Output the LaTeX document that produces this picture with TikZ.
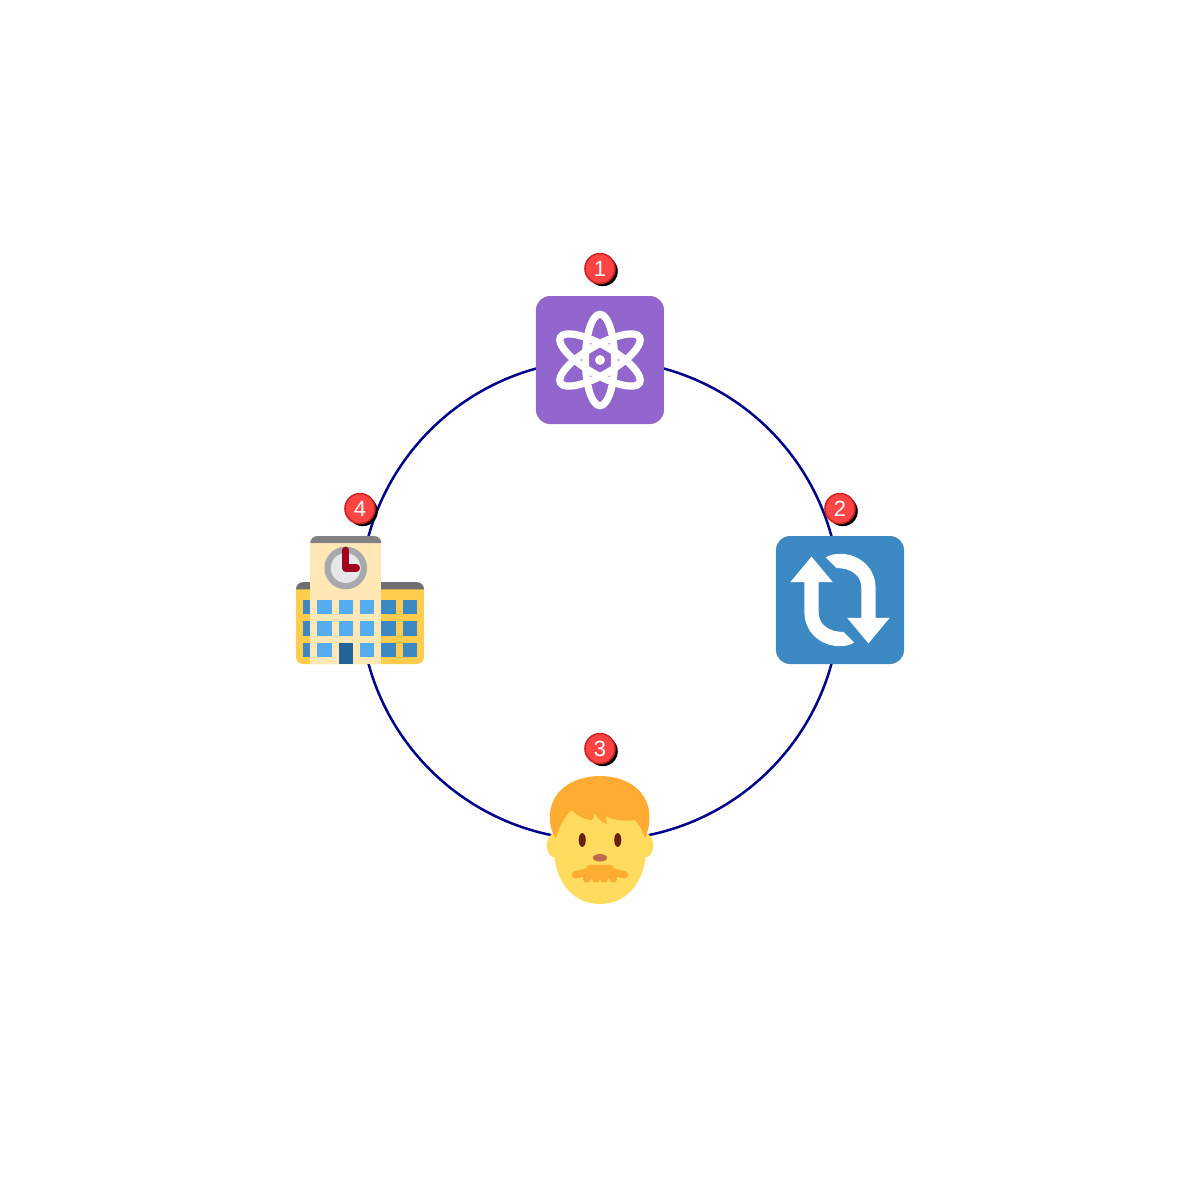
\documentclass[tikz,border=0pt]{standalone}
\usepackage{fontspec}
\setmainfont{Liberation Sans}
\usepackage{xcolor}
\usetikzlibrary{positioning, backgrounds, shadows}
\definecolor{ringblue}{HTML}{00008B}
\definecolor{atompurple}{HTML}{9266CC}
\definecolor{cycleblue}{HTML}{3B88C3}
\definecolor{skin}{HTML}{FFDC5D}
\definecolor{hair}{HTML}{FFAC33}
\definecolor{eyebrown}{HTML}{662113}
\definecolor{nosebrown}{HTML}{C1694F}
\definecolor{wallyellow}{HTML}{FFCC4D}
\definecolor{towercream}{HTML}{FFE8B6}
\definecolor{roofdark}{HTML}{6D6E71}
\definecolor{rooflight}{HTML}{808285}
\definecolor{paneblue}{HTML}{55ACEE}
\definecolor{doorblue}{HTML}{226699}
\definecolor{clockrim}{HTML}{A7A9AC}
\definecolor{clockface}{HTML}{E6E7E8}
\definecolor{clockhand}{HTML}{A0041E}
\definecolor{badgered}{HTML}{FF4444}
\definecolor{badgerim}{HTML}{CC2222}
\tikzset{
  iconnode/.style={
    rectangle, draw=none, inner sep=0pt, outer sep=0pt,
    minimum width=64pt, minimum height=64pt,
  },
  tilenode/.style={iconnode, rounded corners=7pt, fill=#1},
  badge/.style={
    circle, draw=badgerim, fill=badgered, line width=0.8pt,
    minimum size=15pt, inner sep=0pt, outer sep=0pt,
    text=white, font=\fontsize{11pt}{11pt}\selectfont,
    drop shadow={shadow xshift=1.4pt, shadow yshift=-1.3pt, fill=black, opacity=1},
  },
  ring/.style={draw=ringblue, line width=1.25pt},
  % icons are drawn on a 36 x 36 grid, from the top left corner of their node
  icongrid/.style={shift={(#1.north west)}, x=1.7778pt, y=-1.7778pt},
  atomline/.style={draw=white, line width=3.6pt},
}

\begin{document}
\begin{tikzpicture}[node distance=56pt and 56pt]
  \useasboundingbox (-300pt,180pt) rectangle (300pt,-420pt);

  % The four stations
  \node[tilenode=atompurple] (atom) {};
  \node[tilenode=cycleblue, below right=of atom] (cycle) {};
  \node[iconnode, below left=of cycle] (man) {};
  \node[iconnode, above left=of man] (school) {};

  % Number badges
  \node[badge, above=6.2pt of atom]   (b1) {1};
  \node[badge, above=6.2pt of cycle]  (b2) {2};
  \node[badge, above=6.2pt of man]    (b3) {3};
  \node[badge, above=6.2pt of school] (b4) {4};

  % Ring behind the icons
  \begin{scope}[on background layer]
    \draw[ring] (atom.center) to[out=0, in=90] (cycle.center);
    \draw[ring] (cycle.center) to[out=-90, in=0] (man.center);
    \draw[ring] (man.center) to[out=180, in=-90] (school.center);
    \draw[ring] (school.center) to[out=90, in=180] (atom.center);
  \end{scope}

  % Atom
  \begin{scope}[icongrid=atom]
    \foreach \ang in {0,60,120} {
      \draw[atomline, rotate around={\ang:(18,18)}] (18,18) ellipse [x radius=4.1, y radius=12.85];
    }
    \fill[white] (18,18) circle (1.4);
  \end{scope}

  % Arrows
  \begin{scope}[icongrid=cycle]
    \foreach \ang in {0,180} {
      \fill[white, rotate around={\ang:(18,18)}] (10,5.8) -- (16,13) -- (12,13) -- (12,21.5)
        .. controls (12,25) and (15,27) .. (19,27) -- (22,30)
        .. controls (20.7,30.7) and (19.4,31) .. (18,31)
        .. controls (12.5,31) and (8,27) .. (8,21.5) -- (8,13) -- (4,13) -- cycle;
    }
  \end{scope}

  % Man
  \begin{scope}[icongrid=man]
    \fill[skin] (5.5,19.5) ellipse [x radius=2.5, y radius=3.5];
    \fill[skin] (30.5,19.5) ellipse [x radius=2.5, y radius=3.5];
    \fill[skin] (18,36) .. controls (10,36) and (5.1,29) .. (5.1,21) -- (5.1,8) -- (30.9,8) -- (30.9,21)
      .. controls (30.9,29) and (26,36) .. (18,36) -- cycle;
    \fill[hair] (5.6,17.5) .. controls (4.4,16) and (3.9,14) .. (3.9,11.5)
      .. controls (3.9,4.5) and (10,0) .. (18,0)
      .. controls (26,0) and (31.9,4.5) .. (31.9,11.5)
      .. controls (31.9,14) and (31.4,16) .. (30.7,17.5)
      .. controls (30,15.5) and (29,13.5) .. (27.8,12.4)
      .. controls (25,12.8) and (22,12.5) .. (19.7,11.3)
      .. controls (19.5,12) and (19.8,13) .. (20,13.5)
      .. controls (18.5,13) and (17.3,12) .. (16.6,10.5)
      .. controls (16.5,11.3) and (16,12) .. (15.7,12.4)
      .. controls (13.5,12.2) and (11.5,11.2) .. (10,9.6)
      .. controls (8,11.5) and (6.5,14) .. (5.6,17.5) -- cycle;
    \fill[eyebrown] (13,18) ellipse [x radius=1, y radius=1.95];
    \fill[eyebrown] (23,18) ellipse [x radius=1, y radius=1.95];
    \fill[nosebrown] (18,23) ellipse [x radius=2, y radius=1.05];
    % moustache
    \fill[hair, rounded corners=1.5pt] (14,28.7) -- (14.3,25) -- (21.7,25) -- (22,28.7) -- cycle;
    \draw[hair, line width=3.7pt, line cap=round] (11.1,27.8) -- (16,26.6);
    \draw[hair, line width=3.7pt, line cap=round] (24.9,27.8) -- (20,26.6);
    \foreach \lumpx in {14.3,16.9,19.1,21.7} {
      \draw[hair, line width=3.9pt, line cap=round] (\lumpx,27) -- (\lumpx,28.9);
    }
  \end{scope}

  % School
  \begin{scope}[icongrid=school]
    \fill[wallyellow, rounded corners=3.5pt] (0,13) rectangle (36,36);
    \fill[roofdark] (0,15) .. controls (0,13.9) and (.9,13) .. (2,13) -- (34,13)
      .. controls (35.1,13) and (36,13.9) .. (36,15) -- cycle;
    \foreach \colx in {2,24,30} {
      \foreach \rowy in {18,24,30} {
        \fill[cycleblue] (\colx,\rowy) rectangle ++(4,4);
      }
    }
    \fill[towercream] (4,2) rectangle (24,36);
    \fill[rooflight] (4,2) .. controls (4,.9) and (4.9,0) .. (6,0) -- (22,0)
      .. controls (23.1,0) and (24,.9) .. (24,2) -- cycle;
    \foreach \colx in {6,12,18} {
      \foreach \rowy in {18,24,30} {
        \fill[paneblue] (\colx,\rowy) rectangle ++(4,4);
      }
    }
    \fill[doorblue] (12,30) rectangle (16,36);
    \fill[clockrim] (14,9) circle (6);
    \fill[clockface] (14,9) circle (4.2);
    \draw[clockhand, line width=3.55pt, line cap=round, line join=round] (14,4) -- (14,9) -- (17,9);
  \end{scope}

\end{tikzpicture}
\end{document}
